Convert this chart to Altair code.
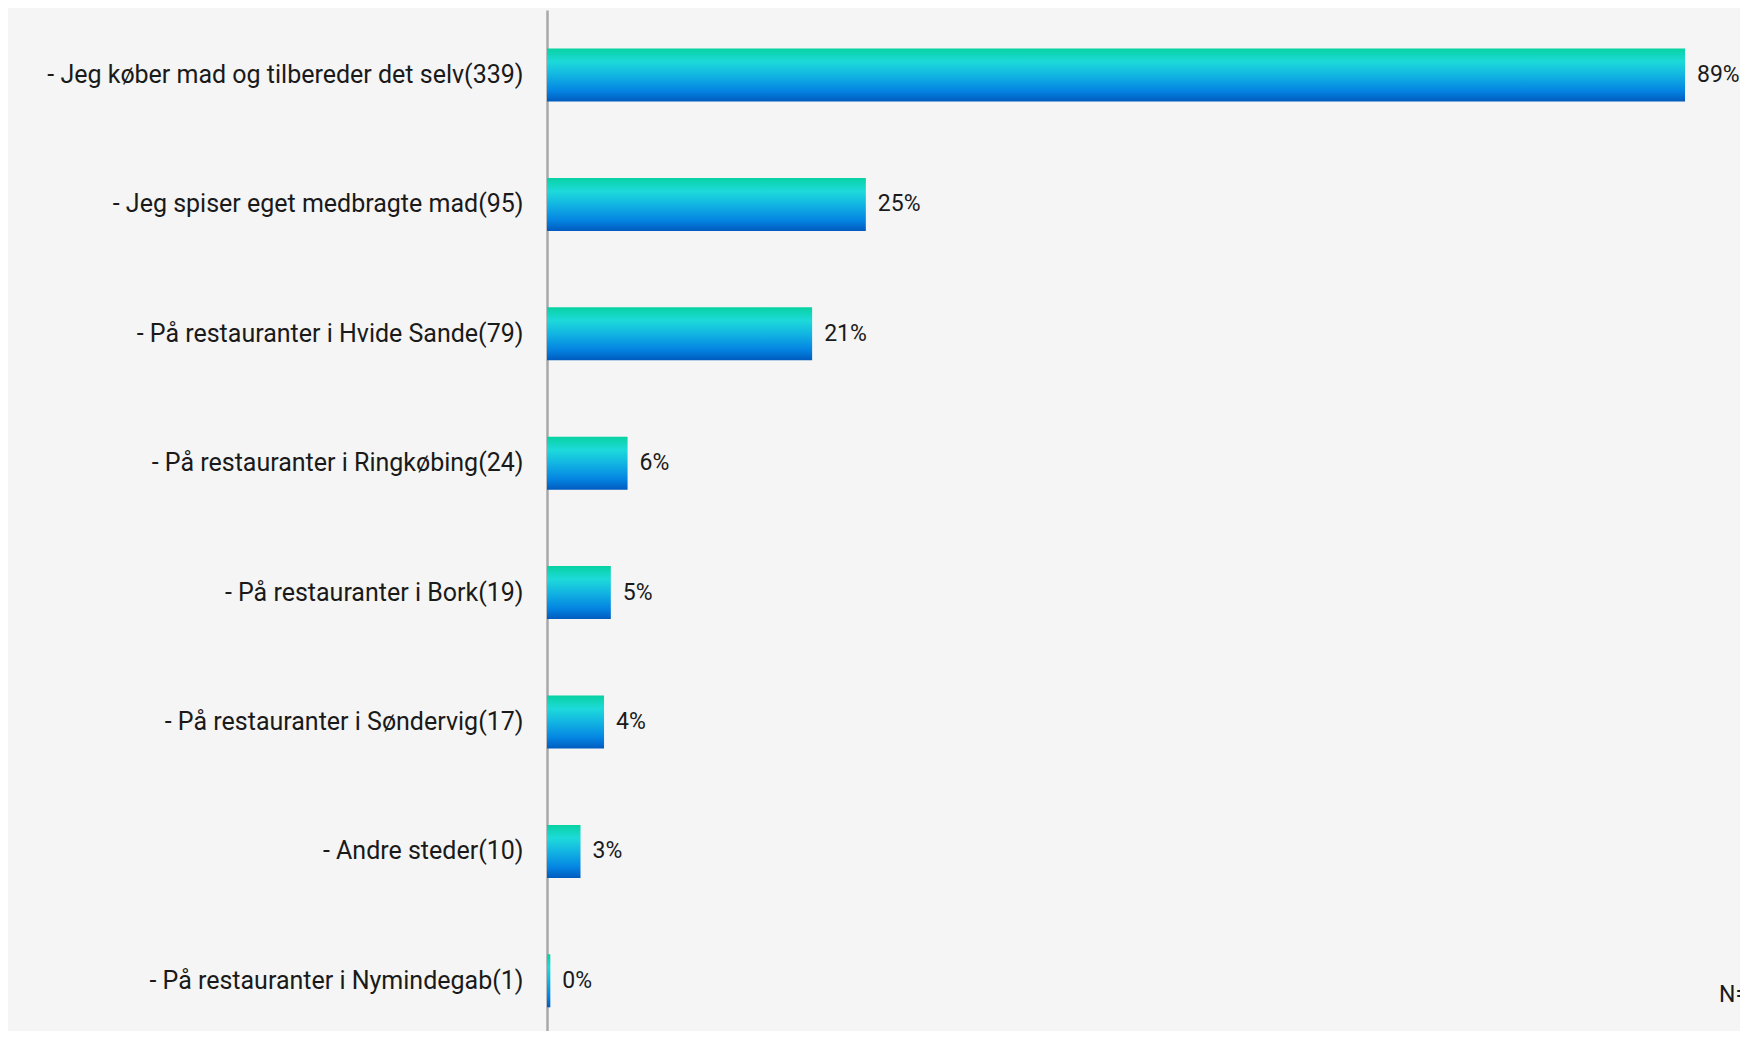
import altair as alt
import pandas as pd

categories = [
    "- Jeg køber mad og tilbereder det selv(339)",
    "- Jeg spiser eget medbragte mad(95)",
    "- På restauranter i Hvide Sande(79)",
    "- På restauranter i Ringkøbing(24)",
    "- På restauranter i Bork(19)",
    "- På restauranter i Søndervig(17)",
    "- Andre steder(10)",
    "- På restauranter i Nymindegab(1)",
]
percent = [88.98, 24.93, 20.73, 6.30, 4.99, 4.46, 2.62, 0.26]
labels = ["89%", "25%", "21%", "6%", "5%", "4%", "3%", "0%"]
n_text = "N=381"

df = pd.DataFrame({"cat": categories, "pct": percent, "lbl": labels})

FONT = "Roboto"
FS = 25
TXT = "#1a1a1a"

gradient = alt.Gradient(
    gradient="linear",
    stops=[
        alt.GradientStop(color="#08d2a2", offset=0),
        alt.GradientStop(color="#1ddada", offset=0.25),
        alt.GradientStop(color="#12b5e2", offset=0.5),
        alt.GradientStop(color="#0484e2", offset=0.8),
        alt.GradientStop(color="#005bbe", offset=1),
    ],
    x1=0, x2=0, y1=0, y2=1,
)

y_enc = alt.Y(
    "cat:N",
    sort=categories,
    scale=alt.Scale(paddingInner=0.5904, paddingOuter=0.2403, align=0.619),
    axis=alt.Axis(
        title=None,
        ticks=False,
        labelFontSize=FS,
        labelFont=FONT,
        labelColor=TXT,
        labelPadding=24,
        labelLimit=600,
        domainColor="#a8a8a8",
        domainWidth=2.5,
        grid=False,
    ),
)
x_enc = alt.X("pct:Q", scale=alt.Scale(domain=[0, 93.28], nice=False, zero=True), axis=None)

bars = alt.Chart(df).mark_bar(color=gradient, clip=False).encode(x=x_enc, y=y_enc)

text = alt.Chart(df).mark_text(
    align="left", baseline="middle", dx=12, fontSize=23, font=FONT, color=TXT, clip=False
).encode(x=x_enc, y=alt.Y("cat:N", sort=categories), text="lbl:N")

ntext = alt.Chart(pd.DataFrame({"t": [n_text]})).mark_text(
    align="left", baseline="middle", fontSize=23, font=FONT, color=TXT
).encode(x=alt.value(1172), y=alt.value(985), text="t:N")

chart = (
    alt.layer(bars, text, ntext)
    .properties(
        width=1193,
        height=1021,
        background="#f5f5f5",
        padding={"left": 539, "top": 2, "right": 0, "bottom": 0},
        autosize=alt.AutoSizeParams(type="none"),
    )
    .configure_view(stroke=None)
)

chart.save("out.html", embed_options={"renderer": "svg", "actions": False})
